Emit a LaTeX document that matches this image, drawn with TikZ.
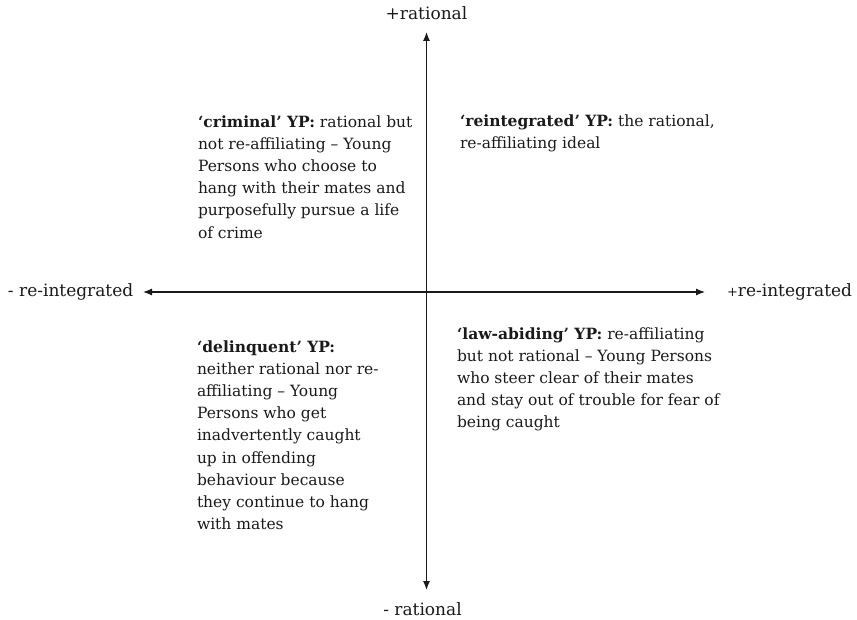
\documentclass[tikz,border=0pt]{standalone}
\usepackage{fontspec}
\setmainfont{DejaVu Serif}
\usetikzlibrary{arrows.meta}
\definecolor{ink}{HTML}{1A1A1A}
\begin{document}
\begin{tikzpicture}[x=1pt,y=-1pt,
  txt/.style={inner sep=0pt,outer sep=0pt,text=ink,font=\fontsize{15.5}{22.2}\selectfont},
  axlab/.style={txt,font=\fontsize{17}{20}\selectfont},
  block/.style={txt,anchor=north west,align=left},
  axis/.style={draw=ink,line width=1.2pt,{Latex[length=9pt,width=7pt]}-{Latex[length=9pt,width=7pt]}}]
\useasboundingbox (0,0) rectangle (857,620);
\fill[white] (0,0) rectangle (857,620);
% axis ends
\coordinate (top) at (426.5,32);
\coordinate (bot) at (426.5,590);
\coordinate (lft) at (143,292);
\coordinate (rgt) at (705,292);
\draw[axis] (bot) -- (top);
\draw[axis] (lft) -- (rgt);
% axis labels
\node[axlab,anchor=base] (prat) at (426.5,20) {+rational};
\node[axlab,anchor=base] (mrat) at (422.5,615) {- rational};
\node[axlab,anchor=base west] (mint) at (8,297) {- re-integrated};
\node[axlab,anchor=base west] (pint) at (727,297) {{\fontsize{13}{20}\selectfont +}re-integrated};
% quadrant texts
\node[block] (crim) at (198,111.5) {\strut\textbf{‘criminal’ YP:} rational but\\not re-affiliating – Young\\Persons who choose to\\hang with their mates and\\purposefully pursue a life\\of crime};
\node[block] (rein) at (460,110.5) {\strut\textbf{‘reintegrated’ YP:} the rational,\\re-affiliating ideal};
\node[block] (delq) at (197,336.5) {\strut\textbf{‘delinquent’ YP:}\\neither rational nor re-\\affiliating – Young\\Persons who get\\inadvertently caught\\up in offending\\behaviour because\\they continue to hang\\with mates};
\node[block] (lawa) at (457,323.5) {\strut\textbf{‘law-abiding’ YP:} re-affiliating\\but not rational – Young Persons\\who steer clear of their mates\\and stay out of trouble for fear of\\being caught};
\end{tikzpicture}
\end{document}
